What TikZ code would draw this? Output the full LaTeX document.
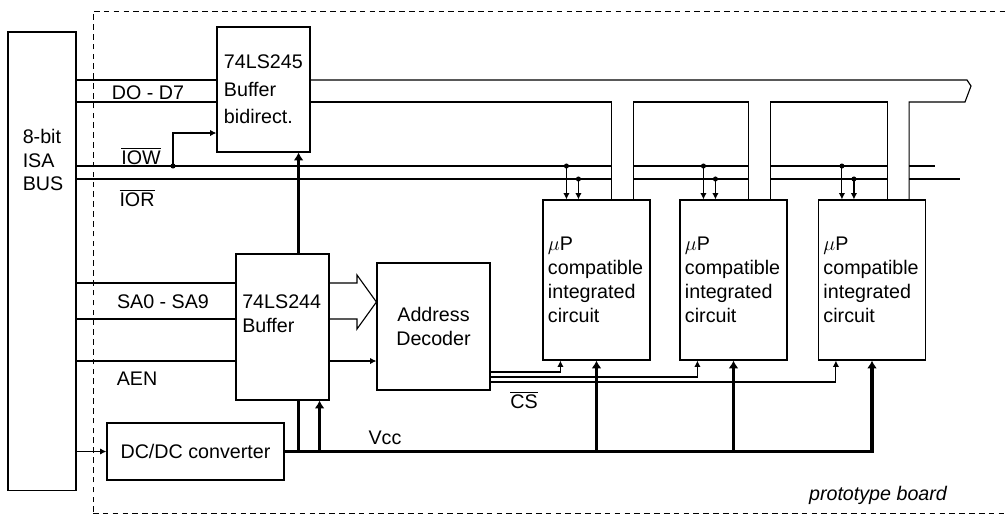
\documentclass[tikz,border=0pt]{standalone}
\usepackage{fontspec}
\setmainfont{Liberation Sans}
\usetikzlibrary{arrows.meta}

\begin{document}
\begin{tikzpicture}[x=0.025cm,y=-0.025cm,line join=miter,>=Latex]
\tikzset{lab/.style={font=\fontsize{14}{17}\selectfont, inner sep=0pt},
  chip/.style={draw, fill=white, line width=0.8pt, font=\fontsize{14}{17}\selectfont, inner sep=0pt},
  wire/.style={line width=0.8pt},
  pwr/.style={line width=2.2pt},
  sig/.style={wire, -{Latex[length=4.5pt,width=4.5pt]}},
  pwrtip/.style={pwr, -{Latex[length=5.5pt,width=7pt]}},
  board/.style={line width=0.7pt, dash pattern=on 4pt off 3pt}}
\useasboundingbox (0,0) rectangle (1008,515);

% board outline
\draw[board] (93,512) -- (93,11) -- (1008,11);
\draw[board] (93,513) -- (1008,513);

% blocks
\node[chip, minimum width=1.7cm, minimum height=11.45cm] (isa) at (42,261) {};
\node[lab, align=left] (isatxt) at (43,160) {8-bit\\ISA\\BUS};
\node[chip, font=\fontsize{14}{19.5}\selectfont, align=left, text width=1.975cm, inner xsep=0.175cm, minimum height=3.125cm] (b245) at (263.5,89.5) {74LS245\\Buffer\\bidirect.};
\node[chip, minimum width=2.325cm, minimum height=3.65cm] (b244) at (282.5,327) {};
\node[lab, align=left, anchor=west] (b244txt) at (242,314) {74LS244\\Buffer};
\node[chip, align=center, minimum width=2.825cm, minimum height=3.175cm] (dec) at (433.5,326.5) {Address\\Decoder};
\node[chip, minimum width=4.425cm, minimum height=1.425cm] (dcdc) at (195.5,451.5) {DC/DC converter};
\foreach \i/\cx in {1/596.5,2/733.5,3/872}
  \node[chip, align=left, text width=2.425cm, inner xsep=0.125cm, minimum height=4cm] (ic\i) at (\cx,280) {$\mu$P\\compatible\\integrated\\circuit};

% signal levels
\coordinate (dA) at (0,80);
\coordinate (dB) at (0,102);
\coordinate (iow) at (0,166);
\coordinate (ior) at (0,179);
\coordinate (wr) at (0,133);
\coordinate (saA) at (0,283);
\coordinate (saB) at (0,319);
\coordinate (aen) at (0,361);
\coordinate (fatmid) at (0,302);
\coordinate (iowend) at (935,166);
\coordinate (iorend) at (960,179);

% control lines
\draw[wire] (isa.east |- iow) -- (iowend);
\draw[wire] (isa.east |- ior) -- (iorend);

% data bus
\foreach \i in {1,2,3} {
  \coordinate (tl\i) at ([xshift=-0.975cm]ic\i.north east);
  \coordinate (tr\i) at ([xshift=-0.425cm]ic\i.north east);
  \fill[white] ([yshift=0.6pt]tl\i) rectangle (tr\i |- dB);
}
\draw[wire] (isa.east |- dA) -- (b245.west |- dA);
\draw[wire] (isa.east |- dB) -- (b245.west |- dB);
\draw[wire] (b245.east |- dB) -- (tl1 |- dB) -- (tl1);
\draw[wire] (tr1) -- (tr1 |- dB) -- (tl2 |- dB) -- (tl2);
\draw[wire] (tr2) -- (tr2 |- dB) -- (tl3 |- dB) -- (tl3);
\draw[wire] (tr3) -- (tr3 |- dB) -- (965,102) -- (968,94) -- (971,86) -- (967,80) -- (b245.east |- dA);

% IOW to 74LS245
\coordinate (iowtap) at (173,166);
\draw[sig] (iowtap) |- (b245.west |- wr);
\fill (iowtap) circle (1.8pt);

% IOW, IOR to chips
\foreach \i in {1,2,3} {
  \coordinate (w\i) at ([xshift=0.6cm]ic\i.north west);
  \coordinate (r\i) at ([xshift=0.9cm]ic\i.north west);
  \draw[sig] (w\i |- iow) -- (w\i);
  \draw[sig] (r\i |- ior) -- (r\i);
  \fill (w\i |- iow) circle (1.8pt);
  \fill (r\i |- ior) circle (1.8pt);
}

% address part
\draw[wire] (isa.east |- saA) -- (b244.west |- saA);
\draw[wire] (isa.east |- saB) -- (b244.west |- saB);
\draw[wire] (isa.east |- aen) -- (b244.west |- aen);
\draw[wire] (b244.east |- saA) -- (357,283) -- (357,275) -- (dec.west |- fatmid) -- (357,329) -- (357,319) -- (b244.east |- saB);
\draw[sig] (b244.east |- aen) -- (dec.west |- aen);

% chip select
\foreach \i/\yy in {1/372,2/377,3/382} {
  \coordinate (csy\i) at (0,\yy);
  \draw[sig] (dec.east |- csy\i) -| ([xshift=0.45cm]ic\i.south west);
}

% supply
\coordinate (j1) at ([xshift=-0.3cm]b245.south east);
\coordinate (j2) at ([xshift=-0.25cm]b244.south east);
\draw[line width=1.2pt, -{Latex[length=4.5pt,width=4.5pt]}] (isa.east |- dcdc.west) -- (dcdc.west);
\draw[pwr, line cap=rect] (dcdc.east) -- (ic3.south |- dcdc.east);
\draw[pwr] (j1 |- dcdc.east) -- (j1 |- b244.south);
\draw[pwrtip] (j1 |- b244.north) -- (j1);
\draw[pwrtip] (j2 |- dcdc.east) -- (j2);
\foreach \i in {1,2,3}
  \draw[pwrtip] (ic\i.south |- dcdc.east) -- (ic\i.south);

% labels
\node[lab] (dlab) at (148,93) {DO - D7};
\node[lab] (iowlab) at (141,156) {$\overline{\mbox{IOW}}$};
\node[lab] (iorlab) at (137,198) {$\overline{\mbox{IOR}}$};
\node[lab] (salab) at (163,302) {SA0 - SA9};
\node[lab] (aenlab) at (137,379) {AEN};
\node[lab] (cslab) at (524,400) {$\overline{\mbox{CS}}$};
\node[lab] (vcclab) at (385,438) {Vcc};
\node[lab, font=\fontsize{14}{17}\selectfont\itshape] (boardlab) at (878,495) {prototype board};
\end{tikzpicture}
\end{document}
